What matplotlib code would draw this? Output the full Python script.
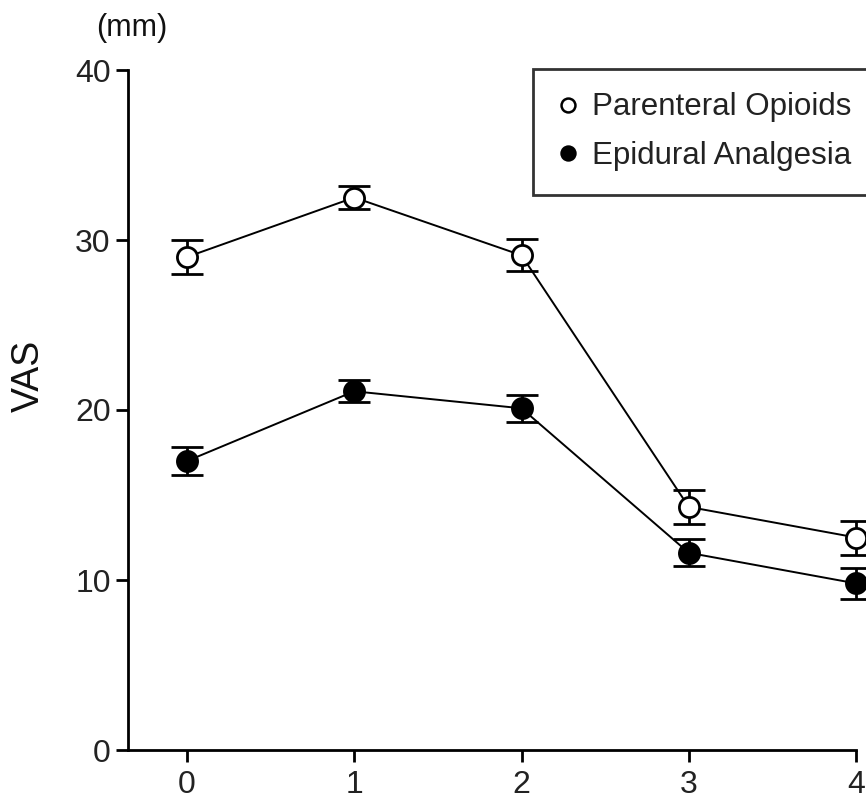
import matplotlib
matplotlib.use("Agg")
import matplotlib.pyplot as plt
from matplotlib.lines import Line2D

plt.rcParams['font.family'] = ['Liberation Sans', 'DejaVu Sans']

# Data
time_points = [0, 1, 2, 3, 4]
x_tick_labels = ["0", "1", "2", "3", "4"]
parenteral_mean = [29.0, 32.5, 29.1, 14.3, 12.5]
parenteral_err = [1.0, 0.65, 0.95, 1.0, 1.0]
epidural_mean = [17.0, 21.1, 20.1, 11.6, 9.8]
epidural_err = [0.85, 0.65, 0.8, 0.8, 0.9]
y_ticks = [0, 10, 20, 30, 40]
series_names = ["Parenteral Opioids", "Epidural Analgesia"]

W, H = 866, 801
fig = plt.figure(figsize=(W / 100, H / 100), dpi=100)
ax = fig.add_axes([128 / W, 1 - 750 / H, (856 - 128) / W, (750 - 70) / H])

common = dict(color='black', lw=1.4, elinewidth=2.0, capsize=11.5, capthick=2.0,
              ms=14.5, mew=2.0, mec='black', clip_on=False)
ax.errorbar(time_points, epidural_mean, yerr=epidural_err, fmt='-o', mfc='black', **common)
ax.errorbar(time_points, parenteral_mean, yerr=parenteral_err, fmt='-o', mfc='white', **common)

ax.set_xlim(-0.353, 4.0)
ax.set_ylim(0, 40)
ax.set_xticks(time_points)
ax.set_xticklabels(x_tick_labels)
ax.set_yticks(y_ticks)

for s in ['top', 'right']:
    ax.spines[s].set_visible(False)
for s in ['left', 'bottom']:
    ax.spines[s].set_linewidth(2.0)

ax.tick_params(axis='both', direction='out', length=8.5, width=2.0,
               labelsize=23, labelcolor='#222222')
ax.tick_params(axis='y', pad=4)
ax.tick_params(axis='x', pad=6)

fig.text(29 / W, 1 - 376 / H, "VAS", fontsize=27, rotation=90,
         ha='center', va='center', color='#111111')
fig.text(132 / W, 1 - 28 / H, "(mm)", fontsize=22, ha='center', va='center', color='#111111')

handles = [
    Line2D([], [], marker='o', ls='none', mfc='white', mec='black', ms=10, mew=1.8),
    Line2D([], [], marker='o', ls='none', mfc='black', mec='black', ms=10, mew=1.8),
]
leg = ax.legend(handles, series_names, loc='upper left',
                bbox_to_anchor=(533 / W, 1 - 69 / H), bbox_transform=fig.transFigure,
                borderaxespad=0, frameon=True, fancybox=False, fontsize=22.5,
                handlelength=0.74, handletextpad=0.4, labelspacing=0.6, borderpad=0.75)
leg.get_frame().set_edgecolor('black')
leg.get_frame().set_linewidth(2.0)
for t in leg.get_texts():
    t.set_color('#222222')

fig.savefig("out.png", dpi=100)
